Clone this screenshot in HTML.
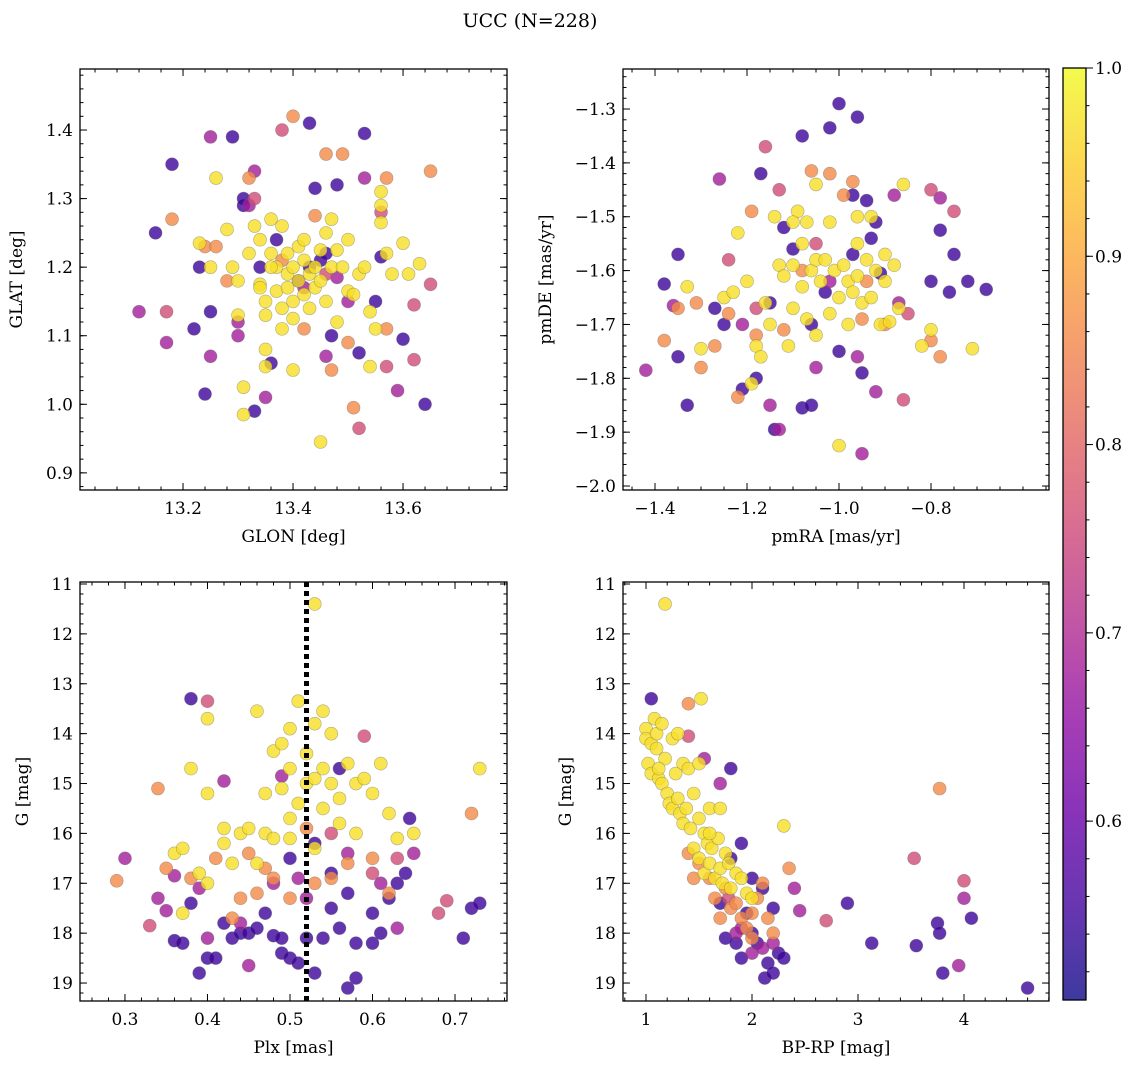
<!DOCTYPE html>
<html><head><meta charset="utf-8"><style>
html,body{margin:0;padding:0;background:#fff;}
svg{display:block;font-family:"DejaVu Serif","Liberation Serif",serif;}
</style></head><body>
<svg id="fig" width="1136" height="1068" viewBox="0 0 1136 1068" xmlns="http://www.w3.org/2000/svg">
<text x="530" y="27" text-anchor="middle" font-size="19">UCC (N=228)</text>
</svg>
<script>
const P_DARK=0.55, P_PURPLE=0.68, P_PINK=0.76, P_ORANGE=0.86, P_YELLOW=0.97;
const p1Dark=[[13.15,1.25],[13.18,1.35],[13.22,1.11],[13.23,1.2],[13.25,1.135],[13.24,1.015],[13.29,1.39],[13.31,1.3],[13.31,1.29],[13.33,0.99],[13.34,1.2],[13.36,1.06],[13.37,1.24],[13.43,1.41],[13.44,1.315],[13.45,1.21],[13.43,1.2],[13.48,1.32],[13.53,1.395],[13.56,1.215],[13.55,1.15],[13.6,1.095],[13.64,1.0],[13.47,1.1],[13.41,1.18],[13.52,1.075],[13.46,1.22]];
const p1Purple=[[13.12,1.135],[13.17,1.09],[13.25,1.39],[13.25,1.07],[13.3,1.12],[13.3,1.1],[13.33,1.34],[13.35,1.01],[13.46,1.07],[13.5,1.15],[13.53,1.33],[13.59,1.02],[13.42,1.17],[13.48,1.185],[13.32,1.29]];
const p1Pink=[[13.17,1.135],[13.38,1.4],[13.57,1.055],[13.62,1.145],[13.62,1.065],[13.65,1.175],[13.33,1.3],[13.52,0.965],[13.56,1.28],[13.46,1.19]];
const p1Orange=[[13.18,1.27],[13.24,1.23],[13.28,1.18],[13.32,1.33],[13.4,1.42],[13.46,1.365],[13.49,1.365],[13.51,0.995],[13.57,1.33],[13.57,1.11],[13.65,1.34],[13.42,1.11],[13.44,1.275],[13.5,1.09],[13.38,1.21],[13.26,1.23],[13.47,1.05]];
const p1Yellow=[[13.26,1.33],[13.23,1.235],[13.25,1.2],[13.28,1.255],[13.3,1.18],[13.3,1.13],[13.31,1.025],[13.31,0.985],[13.32,1.22],[13.33,1.26],[13.34,1.24],[13.34,1.175],[13.35,1.13],[13.35,1.15],[13.35,1.08],[13.36,1.22],[13.36,1.27],[13.37,1.2],[13.37,1.165],[13.38,1.26],[13.38,1.14],[13.38,1.11],[13.39,1.22],[13.39,1.17],[13.39,1.19],[13.4,1.2],[13.4,1.15],[13.4,1.125],[13.41,1.23],[13.41,1.18],[13.42,1.21],[13.42,1.16],[13.42,1.24],[13.43,1.19],[13.43,1.14],[13.44,1.2],[13.44,1.17],[13.45,1.225],[13.45,1.18],[13.45,0.945],[13.46,1.15],[13.46,1.25],[13.47,1.2],[13.47,1.27],[13.48,1.12],[13.48,1.225],[13.49,1.2],[13.5,1.165],[13.5,1.24],[13.51,1.16],[13.52,1.19],[13.53,1.2],[13.54,1.135],[13.54,1.055],[13.56,1.29],[13.56,1.31],[13.56,1.265],[13.57,1.22],[13.58,1.19],[13.6,1.235],[13.61,1.19],[13.63,1.205],[13.55,1.11],[13.34,1.17],[13.36,1.2],[13.29,1.2],[13.4,1.05],[13.35,1.055]];

const p2Dark=[[-1.0,-1.29],[-0.96,-1.315],[-1.02,-1.335],[-1.08,-1.35],[-1.17,-1.42],[-1.35,-1.57],[-1.38,-1.625],[-1.35,-1.76],[-1.33,-1.85],[-1.27,-1.67],[-1.25,-1.7],[-1.21,-1.82],[-1.18,-1.8],[-1.08,-1.855],[-1.06,-1.85],[-1.1,-1.56],[-1.12,-1.52],[-0.97,-1.46],[-0.94,-1.47],[-0.92,-1.51],[-0.93,-1.54],[-0.97,-1.57],[-0.91,-1.605],[-0.8,-1.62],[-0.78,-1.525],[-0.76,-1.64],[-0.75,-1.57],[-0.72,-1.62],[-0.68,-1.635],[-1.0,-1.75],[-0.95,-1.79],[-1.03,-1.64],[-1.15,-1.66],[-1.06,-1.7],[-1.14,-1.895]];
const p2Purple=[[-1.42,-1.785],[-1.26,-1.43],[-1.21,-1.7],[-1.15,-1.85],[-1.13,-1.895],[-1.05,-1.78],[-0.95,-1.94],[-0.92,-1.825],[-0.88,-1.46],[-0.87,-1.66],[-0.78,-1.465],[-1.02,-1.62],[-0.96,-1.76],[-1.36,-1.665]];
const p2Pink=[[-1.24,-1.58],[-1.16,-1.37],[-1.13,-1.45],[-0.8,-1.45],[-0.75,-1.49],[-0.85,-1.68],[-1.05,-1.55],[-1.18,-1.67],[-0.86,-1.84]];
const p2Orange=[[-1.38,-1.73],[-1.35,-1.67],[-1.31,-1.66],[-1.3,-1.78],[-1.27,-1.74],[-1.24,-1.68],[-1.22,-1.835],[-1.19,-1.49],[-1.18,-1.72],[-1.06,-1.415],[-1.02,-1.42],[-0.99,-1.46],[-0.97,-1.435],[-0.95,-1.69],[-0.9,-1.7],[-0.78,-1.76],[-0.8,-1.73],[-1.08,-1.6],[-1.12,-1.71],[-0.94,-1.62]];
const p2Yellow=[[-1.33,-1.63],[-1.3,-1.745],[-1.25,-1.65],[-1.23,-1.64],[-1.22,-1.53],[-1.2,-1.62],[-1.19,-1.81],[-1.18,-1.74],[-1.17,-1.76],[-1.16,-1.66],[-1.15,-1.7],[-1.14,-1.5],[-1.13,-1.59],[-1.12,-1.61],[-1.11,-1.74],[-1.1,-1.59],[-1.1,-1.67],[-1.09,-1.49],[-1.08,-1.63],[-1.08,-1.55],[-1.07,-1.69],[-1.06,-1.6],[-1.05,-1.58],[-1.05,-1.72],[-1.04,-1.62],[-1.03,-1.58],[-1.02,-1.68],[-1.02,-1.51],[-1.01,-1.6],[-1.0,-1.65],[-1.0,-1.925],[-0.99,-1.59],[-0.98,-1.62],[-0.98,-1.7],[-0.97,-1.64],[-0.96,-1.55],[-0.96,-1.61],[-0.95,-1.66],[-0.94,-1.58],[-0.93,-1.5],[-0.93,-1.65],[-0.92,-1.6],[-0.91,-1.7],[-0.9,-1.62],[-0.9,-1.57],[-0.89,-1.695],[-0.88,-1.59],[-0.87,-1.67],[-0.86,-1.44],[-0.82,-1.74],[-0.8,-1.71],[-0.71,-1.745],[-1.07,-1.51],[-1.1,-1.51],[-0.96,-1.5],[-1.05,-1.44]];

const p3Dark=[[0.38,17.4],[0.36,18.15],[0.37,18.2],[0.39,18.8],[0.4,18.5],[0.41,18.5],[0.38,13.3],[0.42,17.8],[0.43,18.1],[0.44,18.0],[0.45,18.0],[0.46,17.9],[0.47,17.6],[0.48,18.05],[0.49,18.4],[0.5,18.5],[0.51,18.6],[0.52,18.1],[0.53,18.8],[0.54,18.1],[0.55,17.5],[0.56,17.9],[0.57,19.1],[0.58,18.9],[0.58,18.2],[0.6,18.2],[0.61,18.0],[0.6,17.6],[0.62,17.3],[0.63,17.0],[0.64,16.8],[0.645,15.7],[0.71,18.1],[0.72,17.5],[0.73,17.4],[0.57,17.2],[0.55,16.8],[0.53,16.2],[0.5,16.5],[0.56,14.7],[0.49,18.1]];
const p3Purple=[[0.3,16.5],[0.34,17.3],[0.35,17.55],[0.36,16.85],[0.39,17.1],[0.42,14.95],[0.44,17.8],[0.45,18.65],[0.48,17.0],[0.49,14.85],[0.51,16.9],[0.52,17.3],[0.57,16.4],[0.61,17.0],[0.65,16.4],[0.63,17.9],[0.4,18.1]];
const p3Pink=[[0.55,16.0],[0.6,16.8],[0.63,16.5],[0.33,17.85],[0.68,17.6],[0.69,17.35],[0.59,14.05],[0.4,13.35]];
const p3Orange=[[0.29,16.95],[0.34,15.1],[0.35,16.7],[0.38,16.9],[0.41,16.5],[0.43,17.7],[0.45,16.4],[0.46,17.2],[0.48,16.9],[0.5,17.3],[0.53,17.0],[0.55,16.9],[0.57,16.6],[0.6,16.5],[0.62,17.2],[0.72,15.6],[0.52,15.9],[0.47,16.7],[0.44,17.3]];
const p3Yellow=[[0.36,16.4],[0.37,16.3],[0.38,14.7],[0.39,16.8],[0.4,13.7],[0.4,15.2],[0.42,15.9],[0.42,16.2],[0.43,16.6],[0.44,16.0],[0.45,15.9],[0.46,13.55],[0.46,16.6],[0.47,16.0],[0.48,14.35],[0.48,16.1],[0.49,14.2],[0.49,15.1],[0.5,13.9],[0.5,14.7],[0.5,15.7],[0.51,13.35],[0.51,15.4],[0.52,14.4],[0.52,15.0],[0.53,11.4],[0.53,13.8],[0.53,14.9],[0.54,13.55],[0.54,14.7],[0.54,15.5],[0.55,14.0],[0.55,15.0],[0.56,15.3],[0.57,14.6],[0.58,15.0],[0.58,16.0],[0.59,14.9],[0.6,15.2],[0.61,14.6],[0.62,15.6],[0.63,16.1],[0.65,16.0],[0.73,14.7],[0.5,16.1],[0.53,16.3],[0.47,15.2],[0.56,15.8],[0.4,17.0],[0.37,17.6]];

const p4Dark=[[1.05,13.3],[1.8,14.7],[1.7,17.4],[1.75,18.1],[1.85,18.2],[1.9,18.5],[1.95,17.6],[2.0,18.0],[2.05,18.2],[2.1,17.1],[2.12,18.9],[2.15,18.6],[2.2,18.8],[2.25,18.4],[2.3,18.5],[1.8,16.5],[1.9,16.2],[2.0,16.9],[2.9,17.4],[3.13,18.2],[3.55,18.25],[3.75,17.8],[3.77,18.0],[3.8,18.8],[4.07,17.7],[4.6,19.1],[2.2,17.5]];
const p4Purple=[[1.55,14.5],[1.7,15.0],[1.85,18.0],[1.9,17.9],[2.0,18.4],[2.1,18.3],[2.2,18.2],[2.4,17.1],[2.45,17.55],[3.95,18.65],[4.0,17.3]];
const p4Pink=[[1.78,17.3],[2.7,17.75],[3.53,16.5],[4.0,16.95],[1.4,14.05]];
const p4Orange=[[1.4,13.4],[1.4,16.4],[1.5,16.6],[1.6,16.9],[1.65,17.3],[1.7,17.7],[1.75,17.1],[1.8,17.5],[1.85,17.4],[1.9,17.7],[1.95,17.9],[2.0,17.6],[2.05,17.3],[2.1,17.0],[2.15,17.7],[2.2,18.0],[2.35,16.7],[3.77,15.1],[1.45,16.9],[2.0,18.1]];
const p4Yellow=[[1.0,13.9],[1.0,14.1],[1.02,14.6],[1.05,14.2],[1.05,14.8],[1.08,13.7],[1.1,14.0],[1.1,14.3],[1.12,14.9],[1.15,13.8],[1.15,15.0],[1.18,14.5],[1.18,11.4],[1.2,15.2],[1.22,15.4],[1.25,14.1],[1.25,15.5],[1.28,14.8],[1.3,15.3],[1.32,15.6],[1.35,14.6],[1.35,15.8],[1.38,15.5],[1.4,14.7],[1.42,15.9],[1.45,15.2],[1.45,16.3],[1.5,15.7],[1.5,16.5],[1.52,13.3],[1.55,16.0],[1.55,16.8],[1.58,16.2],[1.6,15.5],[1.6,16.6],[1.62,16.3],[1.65,16.9],[1.68,16.1],[1.7,15.5],[1.7,16.7],[1.72,17.0],[1.75,16.4],[1.78,16.6],[1.8,17.1],[1.85,16.8],[1.9,16.9],[1.95,17.2],[2.0,17.3],[2.3,15.85],[1.5,14.6],[1.3,14.0],[1.12,14.7],[1.6,16.0]];

const plxLine=0.52;
const cbTicks=[0.6,0.7,0.8,0.9,1.0];
const CMIN=0.505, CMAX=1.0;

const NS="http://www.w3.org/2000/svg";
const svg=document.getElementById('fig');
function el(tag,attrs,parent){const e=document.createElementNS(NS,tag);for(const k in attrs)e.setAttribute(k,attrs[k]);(parent||svg).appendChild(e);return e;}
const stops=[[0,[13,8,135]],[0.1,[65,4,157]],[0.2,[106,0,168]],[0.3,[143,13,164]],[0.4,[177,42,144]],[0.5,[204,71,120]],[0.6,[225,100,98]],[0.7,[242,132,75]],[0.8,[252,166,54]],[0.9,[252,206,37]],[1,[240,249,33]]];
function plasma(t){t=Math.max(0,Math.min(1,t));for(let i=1;i<stops.length;i++){if(t<=stops[i][0]){const a=stops[i-1],b=stops[i],f=(t-a[0])/(b[0]-a[0]);return 'rgb('+a[1].map((v,j)=>Math.round(v+(b[1][j]-v)*f)).join(',')+')';}}return 'rgb(240,249,33)';}
function cnorm(p){return (p-CMIN)/(CMAX-CMIN);}

function fmt(v,d){let s=v.toFixed(d);if(v<0)s='\u2212'+s.slice(1);return s;}
function axes(cfg){
  const g=el('g',{});
  
  
  const {x0,x1,y0,y1,xd,yd}=cfg;
  const sx=v=>x0+(v-xd[0])/(xd[1]-xd[0])*(x1-x0);
  const sy=cfg.yInv? v=>y0+(v-yd[0])/(yd[1]-yd[0])*(y1-y0) : v=>y1-(v-yd[0])/(yd[1]-yd[0])*(y1-y0);
  const groups=[[P_DARK,cfg.data[0]],[P_PURPLE,cfg.data[1]],[P_PINK,cfg.data[2]],[P_ORANGE,cfg.data[3]],[P_YELLOW,cfg.data[4]]];
  const clipId='clip'+cfg.name;
  const cp=el('clipPath',{id:clipId},g);el('rect',{x:x0,y:y0,width:x1-x0,height:y1-y0},cp);
  const pg=el('g',{'clip-path':'url(#'+clipId+')'},g);
  groups.forEach(([p,arr])=>arr.forEach(d=>{
    const c=el('circle',{cx:sx(d[0]),cy:sy(d[1]),r:6.5,fill:plasma(cnorm(p)),'fill-opacity':0.8,stroke:'#666','stroke-opacity':0.5,'stroke-width':0.6},pg);
    
    
  }));
  if(cfg.vline!==undefined){
    const l=el('line',{x1:sx(cfg.vline),x2:sx(cfg.vline),y1:y0,y2:y1,stroke:'#000','stroke-width':5,'stroke-dasharray':'5,4'},g);
    
    
  }
  const fr=el('rect',{x:x0,y:y0,width:x1-x0,height:y1-y0,fill:'none',stroke:'#000','stroke-width':1.3},g);
  
  
  const tk={stroke:'#000','stroke-width':1};
  for(let v=Math.ceil(xd[0]/cfg.xm-1e-6)*cfg.xm;v<=xd[1];v+=cfg.xm){const X=sx(v);el('line',{...tk,x1:X,x2:X,y1:y1,y2:y1-3.5},g);el('line',{...tk,x1:X,x2:X,y1:y0,y2:y0+3.5},g);}
  const ylo=Math.min(...yd),yhi=Math.max(...yd);
  for(let v=Math.ceil(ylo/cfg.ym-1e-6)*cfg.ym;v<=yhi;v+=cfg.ym){const Y=sy(v);el('line',{...tk,x1:x0,x2:x0+3.5,y1:Y,y2:Y},g);el('line',{...tk,x1:x1,x2:x1-3.5,y1:Y,y2:Y},g);}
  cfg.xt.forEach(v=>{const X=sx(v);el('line',{...tk,x1:X,x2:X,y1:y1,y2:y1-7},g);el('line',{...tk,x1:X,x2:X,y1:y0,y2:y0+7},g);
    const t=el('text',{x:X,y:y1+24,'text-anchor':'middle','font-size':17},g);t.textContent=fmt(v,cfg.xdp);
    });
  cfg.yt.forEach(v=>{const Y=sy(v);el('line',{...tk,x1:x0,x2:x0+7,y1:Y,y2:Y},g);el('line',{...tk,x1:x1,x2:x1-7,y1:Y,y2:Y},g);
    const t=el('text',{x:x0-7,y:Y+6,'text-anchor':'end','font-size':17},g);t.textContent=fmt(v,cfg.ydp);
    });
  const xl=el('text',{x:(x0+x1)/2,y:y1+52,'text-anchor':'middle','font-size':17},g);xl.textContent=cfg.xlab;
  
  const yx=cfg.ylx, yc=(y0+y1)/2;
  const yl=el('text',{x:yx,y:yc,'text-anchor':'middle','font-size':17,transform:'rotate(-90 '+yx+' '+yc+')'},g);yl.textContent=cfg.ylab;
  
}
axes({name:'glon-glat-panel',x0:80,x1:507,y0:69,y1:490,xd:[13.0127,13.789],yd:[0.875,1.489],xt:[13.2,13.4,13.6],yt:[0.9,1.0,1.1,1.2,1.3,1.4],xm:0.04,ym:0.02,xdp:1,ydp:1,xlab:'GLON [deg]',ylab:'GLAT [deg]',ylx:22,data:[p1Dark,p1Purple,p1Pink,p1Orange,p1Yellow]});
axes({name:'pm-panel',x0:623,x1:1049,y0:69,y1:490,xd:[-1.4696,-0.5435],yd:[-2.0074,-1.2257],xt:[-1.4,-1.2,-1.0,-0.8],yt:[-2.0,-1.9,-1.8,-1.7,-1.6,-1.5,-1.4,-1.3],xm:0.05,ym:0.02,xdp:1,ydp:1,xlab:'pmRA [mas/yr]',ylab:'pmDE [mas/yr]',ylx:551,data:[p2Dark,p2Purple,p2Pink,p2Orange,p2Yellow]});
axes({name:'plx-g-panel',x0:80,x1:507,y0:582,y1:1001,xd:[0.2455,0.763],yd:[10.96,19.36],yInv:true,xt:[0.3,0.4,0.5,0.6,0.7],yt:[11,12,13,14,15,16,17,18,19],xm:0.02,ym:0.2,xdp:1,ydp:0,xlab:'Plx [mas]',ylab:'G [mag]',ylx:28,vline:plxLine,data:[p3Dark,p3Purple,p3Pink,p3Orange,p3Yellow]});
axes({name:'cmd-panel',x0:623,x1:1049,y0:582,y1:1001,xd:[0.783,4.802],yd:[10.96,19.36],yInv:true,xt:[1,2,3,4],yt:[11,12,13,14,15,16,17,18,19],xm:0.2,ym:0.2,xdp:0,ydp:0,xlab:'BP-RP [mag]',ylab:'G [mag]',ylx:571,data:[p4Dark,p4Purple,p4Pink,p4Orange,p4Yellow]});

const cb=el('g',{});


const cx0=1063,cx1=1086,cy0=68,cy1=1000;
const defs=el('defs',{},cb);
const lg=el('linearGradient',{id:'cbg',x1:0,y1:1,x2:0,y2:0},defs);
for(let i=0;i<=20;i++){el('stop',{offset:i/20,'stop-color':plasma(i/20)},lg);}
el('rect',{x:cx0,y:cy0,width:cx1-cx0,height:cy1-cy0,fill:'url(#cbg)','fill-opacity':0.8},cb);
el('rect',{x:cx0,y:cy0,width:cx1-cx0,height:cy1-cy0,fill:'none',stroke:'#000','stroke-width':1.3},cb);
const cy=v=>cy1-(v-CMIN)/(CMAX-CMIN)*(cy1-cy0);
for(let v=0.52;v<=1.0001;v+=0.02){const Y=cy(v);el('line',{x1:cx1,x2:cx1+3.5,y1:Y,y2:Y,stroke:'#000'},cb);}
cbTicks.forEach(v=>{const Y=cy(v);el('line',{x1:cx1,x2:cx1+7,y1:Y,y2:Y,stroke:'#000'},cb);
  const t=el('text',{x:cx1+9,y:Y+6,'font-size':17},cb);t.textContent=v.toFixed(1);
  });
</script>
</body></html>
